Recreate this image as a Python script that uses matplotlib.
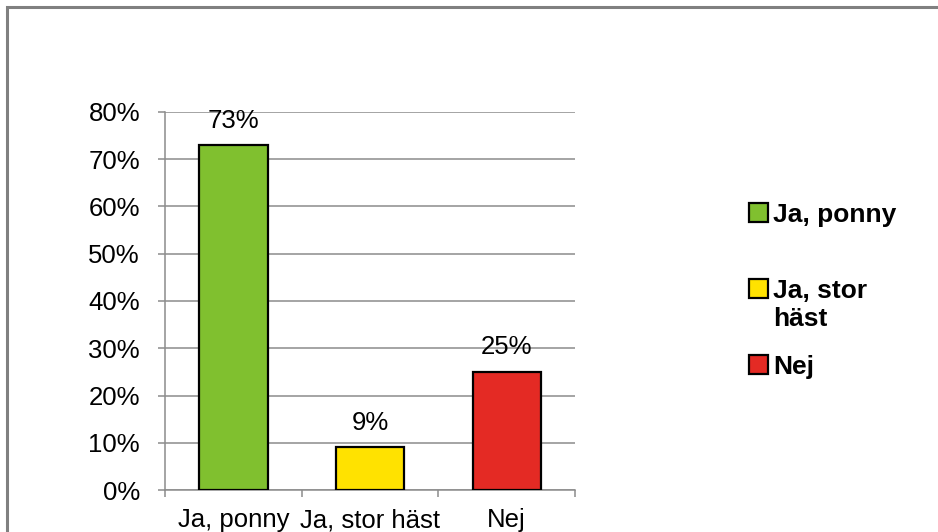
import matplotlib
matplotlib.use("Agg")
import matplotlib.pyplot as plt
from matplotlib.patches import Patch, Rectangle

categories = ["Ja, ponny", "Ja, stor häst", "Nej"]
legend_labels = ["Ja, ponny", "Ja, stor", "Nej"]
legend_wrap = ["", "häst", ""]
values = [73, 9, 25]
colors = ["#80C02F", "#FFE200", "#E42A24"]
yticks = [0, 10, 20, 30, 40, 50, 60, 70, 80]

plt.rcParams["font.family"] = ["Liberation Sans", "DejaVu Sans"]

fig = plt.figure(figsize=(9.38, 5.32), dpi=100)

# outer chart border (only top and left edges fall inside the picture)
fig.patches.append(Rectangle((6.5 / 938, -0.1), 1.2, 1.1 - 6.5 / 532,
                             transform=fig.transFigure, fill=False,
                             edgecolor="#808080", linewidth=2.2))

ax = fig.add_axes([165 / 938, 42 / 532, 410 / 938, 378 / 532])

xs = range(len(categories))
ax.bar(xs, values, width=0.5, color=colors, edgecolor="black",
       linewidth=1.6, zorder=3)

for x, v in zip(xs, values):
    ax.annotate(f"{v}%", (x, v), xytext=(0, 9), textcoords="offset points",
                ha="center", va="bottom", fontsize=18.5, zorder=4)

ax.set_xlim(-0.5, 2.5)
ax.set_ylim(0, 80)
ax.set_yticks(yticks)
ax.set_yticklabels([f"{t}%" for t in yticks])
ax.grid(axis="y", color="#8c8c8c", linewidth=1.1, zorder=0)

ax.set_xticks([-0.5, 0.5, 1.5, 2.5])
ax.set_xticklabels([])
ax.set_xticks(list(xs), minor=True)
ax.set_xticklabels(categories, minor=True)
ax.tick_params(axis="x", which="minor", length=0, pad=13, labelsize=18.5)
ax.tick_params(axis="x", which="major", length=5, width=1.1, color="#8c8c8c")
ax.tick_params(axis="y", length=5, width=1.1, color="#8c8c8c", labelsize=18.5, pad=13)

for side in ("top", "right"):
    ax.spines[side].set_visible(False)
for side in ("left", "bottom"):
    ax.spines[side].set_color("#8c8c8c")
    ax.spines[side].set_linewidth(1.1)

# legend entries placed individually (uneven spacing as in original)
legend_y = [215, 291, 367]
for lab, extra, col, y in zip(legend_labels, legend_wrap, colors, legend_y):
    h = Patch(facecolor=col, edgecolor="black", linewidth=1.6)
    fig.legend(handles=[h], labels=[lab], loc="center left",
               bbox_to_anchor=(749 / 938, 1 - y / 532),
               frameon=False, handlelength=0.72, handleheight=0.72,
               handletextpad=0.2, borderpad=0, borderaxespad=0,
               prop={"weight": "bold", "size": 19})
    if extra:
        fig.text(773 / 938, 1 - (y + 28) / 532, extra, ha="left", va="center",
                 fontsize=19, fontweight="bold")

fig.savefig("out.png", dpi=100)
